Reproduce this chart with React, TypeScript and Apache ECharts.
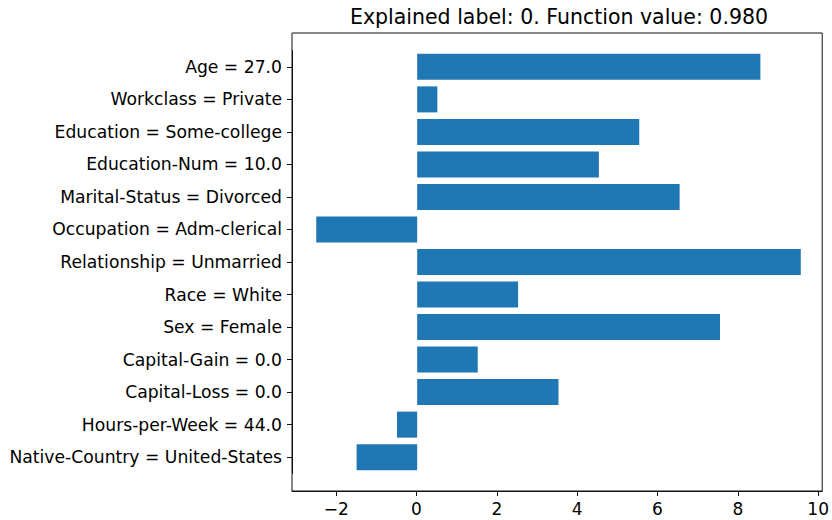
import React, { useEffect, useRef } from "react";
import * as echarts from "echarts";

const categories = [
  "Age = 27.0",
  "Workclass = Private",
  "Education = Some-college",
  "Education-Num = 10.0",
  "Marital-Status = Divorced",
  "Occupation = Adm-clerical",
  "Relationship = Unmarried",
  "Race = White",
  "Sex = Female",
  "Capital-Gain = 0.0",
  "Capital-Loss = 0.0",
  "Hours-per-Week = 44.0",
  "Native-Country = United-States",
];
const values = [8.5, 0.5, 5.5, 4.5, 6.5, -2.5, 9.5, 2.5, 7.5, 1.5, 3.5, -0.5, -1.5];
const xTicks = [-2, 0, 2, 4, 6, 8, 10];
const titleText = "Explained label: 0. Function value: 0.980";

const FONT = "DejaVu Sans";

export default function App() {
  const ref = useRef<HTMLDivElement>(null);
  useEffect(() => {
    if (!ref.current) return;
    const chart = echarts.init(ref.current, null, { renderer: "svg" });
    const xMin = -3.1;
    const xMax = 10.1;
    const option: any = {
      animation: false,
      backgroundColor: "#ffffff",
      textStyle: { fontFamily: FONT },
      title: {
        text: titleText,
        left: 554,
        textAlign: "center",
        top: 1,
        textStyle: { fontFamily: FONT, fontSize: 20.5, fontWeight: "normal", color: "#000" },
      },
      grid: [
        { left: 292, right: 7, top: 50.6, bottom: 46.6, containLabel: false },
        {
          left: 292,
          right: 7,
          top: 33,
          bottom: 29,
          show: true,
          borderColor: "#111",
          borderWidth: 1,
          backgroundColor: "transparent",
        },
      ],
      xAxis: [
        { type: "value", gridIndex: 0, min: xMin, max: xMax, show: false },
        {
          type: "value",
          gridIndex: 1,
          min: xMin,
          max: xMax,
          axisLine: { show: true, lineStyle: { color: "#111", width: 1 } },
          splitLine: { show: false },
          axisTick: {
            show: true,
            length: 5,
            customValues: xTicks,
            lineStyle: { color: "#111", width: 1 },
          },
          axisLabel: {
            customValues: xTicks,
            margin: 9,
            color: "#000",
            fontFamily: FONT,
            fontSize: 17,
            formatter: (v: number) => String(v).replace("-", "\u2212"),
          },
        },
      ],
      yAxis: [
        {
          type: "category",
          gridIndex: 0,
          data: categories,
          inverse: true,
          axisLine: { show: true, onZero: false, lineStyle: { color: "#111", width: 1 } },
          splitLine: { show: false },
          axisTick: { show: true, alignWithLabel: true, length: 5, lineStyle: { color: "#111", width: 1 } },
          axisLabel: { margin: 10, color: "#000", fontFamily: FONT, fontSize: 17.2 },
        },
        { type: "value", gridIndex: 1, min: 0, max: 1, show: false },
      ],
      series: [
        {
          type: "bar",
          xAxisIndex: 0,
          yAxisIndex: 0,
          data: values,
          barWidth: "80%",
          itemStyle: { color: "#1f77b4" },
        },
      ],
    };
    chart.setOption(option);
    return () => chart.dispose();
  }, []);
  return (
    <div
      ref={ref}
      style={{ position: "fixed", left: 0, top: 0, width: 832, height: 520 }}
    />
  );
}
